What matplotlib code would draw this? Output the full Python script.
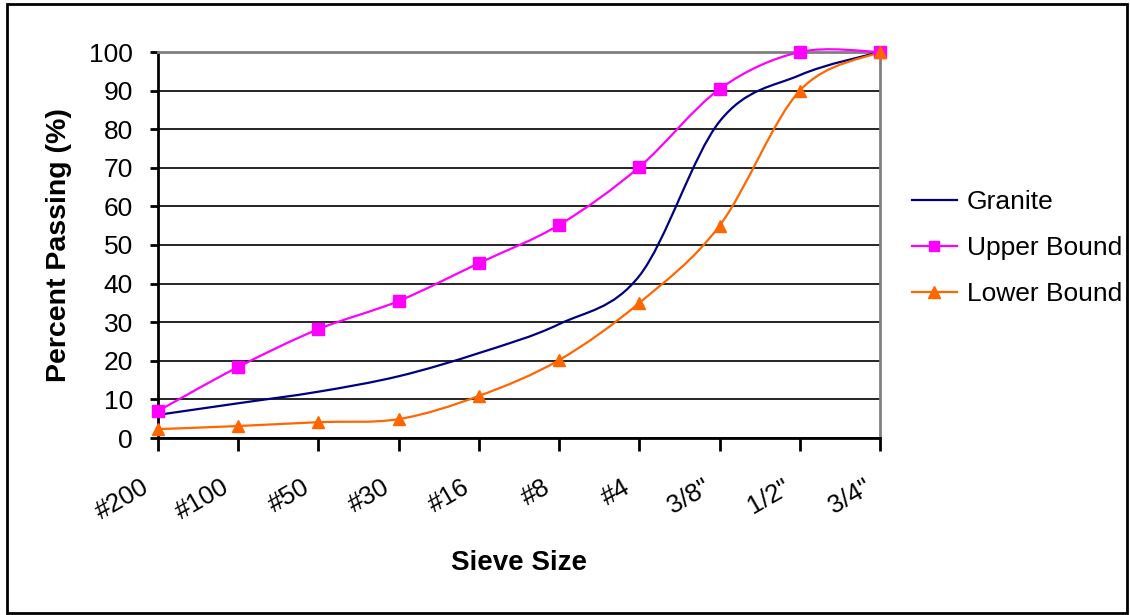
import matplotlib.pyplot as plt
from matplotlib.path import Path
from matplotlib.patches import PathPatch, Rectangle
from matplotlib.lines import Line2D
from matplotlib.transforms import ScaledTranslation, blended_transform_factory

sieves = ['#200', '#100', '#50', '#30', '#16', '#8', '#4', '3/8"', '1/2"', '3/4"']
granite = [6.0, 9.0, 12.0, 16.0, 22.0, 29.5, 42.0, 82.0, 94.0, 100.0]
upper = [7.0, 18.4, 28.2, 35.5, 45.3, 55.2, 70.2, 90.4, 100.0, 100.0]
lower = [2.3, 3.1, 4.1, 4.9, 10.9, 20.2, 35.0, 55.0, 90.0, 100.0]

fnt = ['Liberation Sans', 'DejaVu Sans']


def smooth_path(xs, ys):
    # excel-like smoothed line: cubic bezier through the points (catmull-rom)
    n = len(xs)
    verts = [(xs[0], ys[0])]
    codes = [Path.MOVETO]
    for i in range(n - 1):
        i0 = max(i - 1, 0)
        i3 = min(i + 2, n - 1)
        c1 = (xs[i] + (xs[i + 1] - xs[i0]) / 6, ys[i] + (ys[i + 1] - ys[i0]) / 6)
        c2 = (xs[i + 1] - (xs[i3] - xs[i]) / 6, ys[i + 1] - (ys[i3] - ys[i]) / 6)
        verts += [c1, c2, (xs[i + 1], ys[i + 1])]
        codes += [Path.CURVE4] * 3
    return Path(verts, codes)


fig = plt.figure(figsize=(11.3, 6.15), dpi=100)
ax = fig.add_axes([158 / 1130, 1 - 438 / 615, 722 / 1130, 386 / 615])

x = list(range(len(sieves)))

series = [
    ('Granite', granite, '#000080', None, 0),
    ('Upper Bound', upper, '#FF00FF', 's', 8),
    ('Lower Bound', lower, '#FF6600', '^', 9),
]
handles = []
for name, vals, col, mk, ms in series:
    ax.add_patch(PathPatch(smooth_path(x, vals), fill=False, edgecolor=col,
                           lw=1.6, zorder=3, clip_on=False))
    if mk:
        ax.plot(x, vals, linestyle='none', marker=mk, ms=ms, color=col,
                zorder=4, clip_on=False)
    handles.append(Line2D([], [], color=col, lw=1.6, marker=mk, ms=ms - 1 if mk else 0))

ax.set_xlim(0, 9)
ax.set_ylim(0, 100)
ax.set_yticks(range(0, 101, 10))
ax.set_xticks(x)
ax.set_xticklabels([])
# rotated category labels, placed below-left of each tick
lab_tr = blended_transform_factory(ax.transData, ax.transAxes) + \
    ScaledTranslation(-0.17, -0.37, fig.dpi_scale_trans)
for i, s in enumerate(sieves):
    ax.text(i, 0, s, transform=lab_tr, rotation=30, ha='right', va='top',
            rotation_mode='anchor', fontsize=18.5, family=fnt)
for lab in ax.get_yticklabels():
    lab.set_fontsize(19)
    lab.set_family(fnt)

ax.grid(axis='y', color='black', lw=1.2)
ax.set_axisbelow(True)
ax.spines['left'].set_color('black')
ax.spines['bottom'].set_color('black')
ax.spines['left'].set_linewidth(2)
ax.spines['bottom'].set_linewidth(2)
ax.spines['top'].set_color('#808080')
ax.spines['right'].set_color('#808080')
ax.spines['top'].set_linewidth(2)
ax.spines['right'].set_linewidth(2)
ax.tick_params(axis='y', length=6, width=2, pad=12)
ax.tick_params(axis='x', length=9, width=2)

ax.set_ylabel('Percent Passing (%)', fontsize=20.5, fontweight='bold',
              family=fnt, labelpad=12)
ax.set_xlabel('Sieve Size', fontsize=20, fontweight='bold', family=fnt)
ax.xaxis.set_label_coords(0.5, (438 - 563) / 386, transform=ax.transAxes)
ax.xaxis.label.set_va('center')

fig.legend(handles, [s[0] for s in series], loc='center left',
           bbox_to_anchor=(912 / 1130, 1 - 248 / 615), frameon=False,
           prop={'family': fnt, 'size': 19}, handlelength=1.7,
           handletextpad=0.38, labelspacing=0.84, borderpad=0,
           borderaxespad=0)

fig.add_artist(Rectangle((7 / 1130, 2 / 615), 1120 / 1130, 609 / 615,
                         transform=fig.transFigure, fill=False,
                         edgecolor='black', lw=2))

fig.savefig('out.png', dpi=100)
